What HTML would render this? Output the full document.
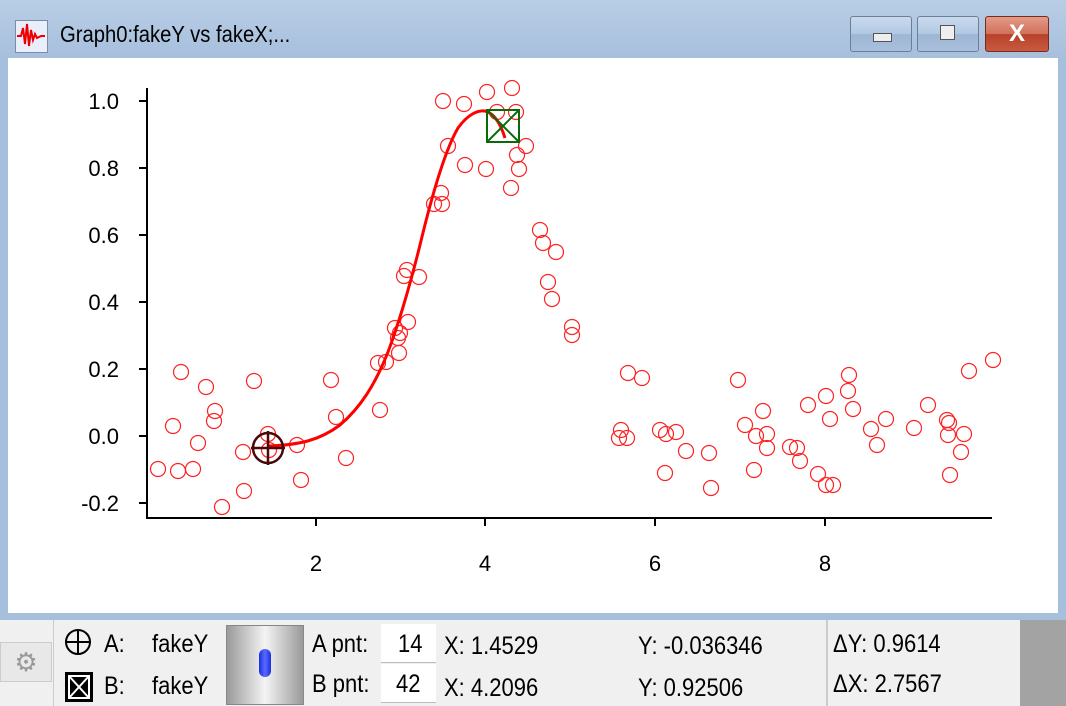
<!DOCTYPE html>
<html><head><style>
body{margin:0;width:1066px;height:706px;overflow:hidden;background:linear-gradient(#b9cde6,#a6bfdc 60px);font-family:"Liberation Sans",sans-serif;position:relative}
.t{position:absolute}
.btn{position:absolute;top:16px;height:34px;border:1px solid #6d7f96;border-radius:3px;background:linear-gradient(#c9daee,#b2c8e2 50%,#9db6d4 51%,#a9c0dc)}
.panel{position:absolute;left:0;top:620px;width:1066px;height:86px;background:#f0f0f0}
.txt{position:absolute;font-size:25px;color:#000;white-space:nowrap;transform:scaleX(0.88);transform-origin:0 0}
.box{position:absolute;background:#fff;border-bottom:1px solid #bbb}
</style></head><body>
<div class="t" style="left:15px;top:20px;width:31px;height:31px;background:#e8eefa;border:1px solid #7c8ca8"></div>
<svg class="t" style="left:15px;top:20px" width="32" height="32"><polyline points="2,16 6,16 8,8 10,24 12,4 14,26 16,10 18,20 20,14 22,18 26,16 30,16" fill="none" stroke="#e00" stroke-width="2"/></svg>
<div class="txt" style="left:60px;top:21px;font-size:23px">Graph0:fakeY vs fakeX;...</div>
<div class="btn" style="left:850px;width:60px"><div style="position:absolute;left:22px;top:16px;width:17px;height:7px;background:#eee;border:1px solid #555"></div></div>
<div class="btn" style="left:917px;width:60px"><div style="position:absolute;left:22px;top:8px;width:13px;height:13px;background:#eee;border:1px solid #555"></div></div>
<div class="btn" style="left:985px;width:62px;background:linear-gradient(#e39a88,#d0705a 50%,#b7412a 51%,#c75a40);border-color:#7a2a1a;color:#fff;font-weight:bold;font-size:24px;text-align:center;line-height:34px">X</div>
<div class="t" style="left:8px;top:58px;width:1050px;height:555px;background:#fff"></div>
<svg class="t" style="left:0;top:0" width="1066" height="620">
<g stroke="#000" stroke-width="2" fill="none">
<line x1="147" y1="88" x2="147" y2="519"/><line x1="146" y1="518" x2="992" y2="518"/>
<line x1="147" y1="101" x2="139" y2="101"/><line x1="147" y1="168" x2="139" y2="168"/><line x1="147" y1="235" x2="139" y2="235"/><line x1="147" y1="302" x2="139" y2="302"/><line x1="147" y1="369" x2="139" y2="369"/><line x1="147" y1="436" x2="139" y2="436"/><line x1="147" y1="503" x2="139" y2="503"/>
<line x1="316" y1="518" x2="316" y2="526"/><line x1="485" y1="518" x2="485" y2="526"/><line x1="655" y1="518" x2="655" y2="526"/><line x1="825" y1="518" x2="825" y2="526"/>
</g>
<g font-size="22" text-anchor="end" fill="#000">
<text x="119" y="109">1.0</text><text x="119" y="176">0.8</text><text x="119" y="243">0.6</text><text x="119" y="310">0.4</text><text x="119" y="377">0.2</text><text x="119" y="444">0.0</text><text x="119" y="511">-0.2</text>
</g>
<g font-size="22" text-anchor="middle"><text x="316" y="571">2</text><text x="485" y="571">4</text><text x="655" y="571">6</text><text x="825" y="571">8</text></g>
<g fill="none" stroke="#f22" stroke-width="1.2" id="pts"></g>
<path d="M268,446 C300,445 320,440 340,425 C360,408 375,385 388,352 C400,320 410,285 420,245 C432,195 445,150 458,128 C468,114 478,110 485,111 C493,113 500,122 505,138" fill="none" stroke="#f00" stroke-width="3"/>
<g stroke="#4a0808" stroke-width="2.5" fill="none"><circle cx="268" cy="448" r="15"/><line x1="251" y1="448" x2="285" y2="448"/><line x1="268" y1="431" x2="268" y2="465"/></g>
<g stroke="#0a6a0a" stroke-width="2" fill="none"><rect x="487" y="110" width="32" height="32"/><line x1="487" y1="110" x2="519" y2="142"/><line x1="519" y1="110" x2="487" y2="142"/></g>
</svg>
<div class="panel"></div>
<div class="t" style="left:0;top:642px;width:50px;height:38px;background:#e8e8e8;border:1px solid #ccc;color:#999;font-size:26px;text-align:center;line-height:38px">⚙</div>
<div class="t" style="left:53px;top:620px;width:1px;height:86px;background:#ccc"></div>
<svg class="t" style="left:64px;top:626px" width="30" height="80"><g stroke="#000" stroke-width="2" fill="none"><circle cx="14" cy="16" r="12"/><line x1="2" y1="16" x2="26" y2="16"/><line x1="14" y1="4" x2="14" y2="28"/></g><rect x="1" y="46" width="28" height="30" fill="#000"/><g stroke="#fff" stroke-width="2" fill="none"><rect x="5" y="50" width="20" height="22"/><line x1="5" y1="50" x2="25" y2="72"/><line x1="25" y1="50" x2="5" y2="72"/></g></svg>
<div class="txt" style="left:104px;top:630px">A:</div><div class="txt" style="left:152px;top:630px">fakeY</div>
<div class="txt" style="left:104px;top:672px">B:</div><div class="txt" style="left:152px;top:672px">fakeY</div>
<div class="t" style="left:226px;top:625px;width:76px;height:78px;border:1px solid #888;background:linear-gradient(90deg,#9a9a9a,#f4f4f4 50%,#9a9a9a)"></div>
<div class="t" style="left:259px;top:649px;width:12px;height:28px;border-radius:6px;background:linear-gradient(90deg,#1a2ee0,#5a6aff,#1a2ee0)"></div>
<div class="txt" style="left:312px;top:630px">A pnt:</div><div class="txt" style="left:312px;top:670px">B pnt:</div>
<div class="box" style="left:381px;top:624px;width:55px;height:38px"></div><div class="box" style="left:381px;top:664px;width:55px;height:38px"></div>
<div class="txt" style="left:398px;top:630px">14</div><div class="txt" style="left:396px;top:670px">42</div>
<div class="txt" style="left:444px;top:632px">X: 1.4529</div><div class="txt" style="left:444px;top:674px">X: 4.2096</div>
<div class="txt" style="left:638px;top:632px">Y: -0.036346</div><div class="txt" style="left:638px;top:674px">Y: 0.92506</div>
<div class="t" style="left:826px;top:620px;width:2px;height:86px;background:#ccc"></div>
<div class="txt" style="left:833px;top:630px">ΔY: 0.9614</div><div class="txt" style="left:833px;top:670px">ΔX: 2.7567</div>
<div class="t" style="left:1020px;top:620px;width:46px;height:86px;background:#a3a3a3"></div>
<script>
var p=[[158,469],[173,426],[181,372],[178,471],[193,469],[198,443],[206,387],[214,421],[215,411],[222,507],[243,452],[244,491],[254,381],[268,434],[269,450],[297,445],[301,480],[331,380],[336,417],[346,458],[378,363],[380,410],[386,362],[395,328],[398,338],[399,353],[400,333],[404,276],[408,322],[407,270],[419,277],[434,204],[441,193],[442,204],[443,101],[448,146],[464,104],[465,165],[486,169],[487,92],[497,112],[512,88],[516,112],[511,188],[517,155],[519,169],[526,146],[540,230],[543,243],[556,252],[548,282],[552,299],[572,327],[572,335],[619,438],[621,430],[627,438],[628,373],[642,378],[660,430],[665,473],[666,434],[676,432],[686,451],[709,453],[711,488],[738,380],[745,425],[754,470],[756,436],[763,411],[767,434],[767,448],[790,447],[797,448],[800,461],[808,405],[818,474],[826,396],[826,485],[830,419],[833,485],[848,391],[849,375],[853,409],[871,429],[877,445],[886,419],[914,428],[928,405],[947,420],[948,435],[950,475],[949,423],[961,452],[964,434],[969,371],[993,360]];
var g=document.getElementById('pts'),s='';p.forEach(function(q){s+='<circle cx="'+q[0]+'" cy="'+q[1]+'" r="7.5"/>'});g.innerHTML=s;
</script>
</body></html>
